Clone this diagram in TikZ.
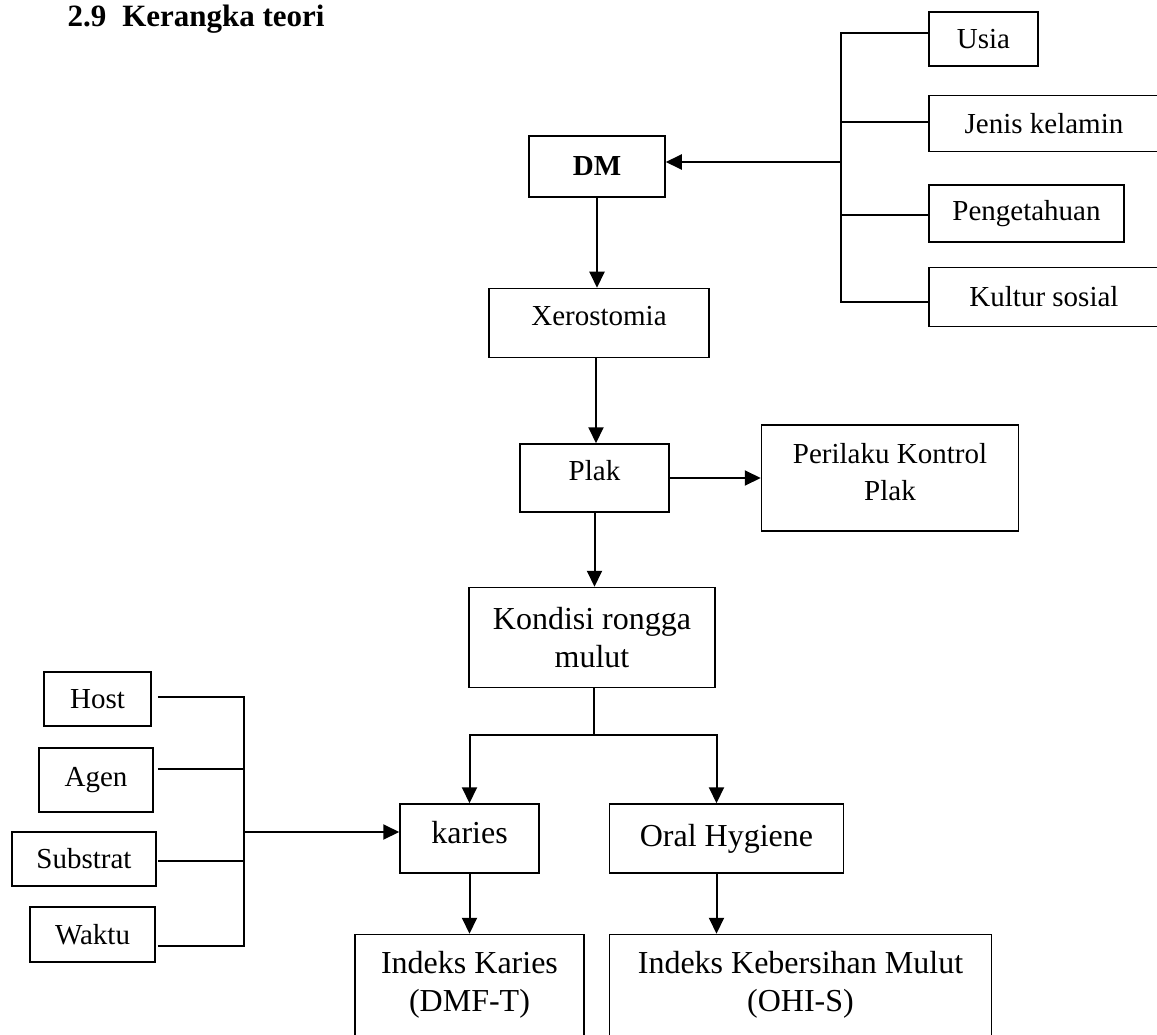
\documentclass[tikz,border=0pt]{standalone}
\usepackage{fontspec}
\setmainfont{Liberation Serif}
\usetikzlibrary{
  positioning,
  arrows.meta
}

\begin{document}
\begin{tikzpicture}[x = 1pt, y = 1pt,
    box/.style = {draw, line width = 1.5pt, inner sep = 0pt, align = center},
    fsmall/.style = {font = \fontsize{29}{37}\selectfont},
    fbig/.style = {font = \fontsize{32}{38}\selectfont},
    ln/.style = {line width = 2pt},
    arr/.style = {line width = 2pt, -{Triangle[length = 16pt, width = 15pt]}}]
    \useasboundingbox (0,0) rectangle (1157,-1035);
    \clip (0,0) rectangle (1157,-1035);

    \node[anchor = base west, font = \bfseries\fontsize{31}{38}\selectfont] (title) at (64,-27) {2.9\hspace{16pt}Kerangka teori};

    \node[box, minimum width = 136pt, minimum height = 61pt, font = \bfseries\fontsize{29}{37}\selectfont] (dm) at (597,-166.5) {DM};
    \node[box, fsmall, minimum width = 220pt, minimum height = 69pt, text depth = 14pt, below = 90pt of dm, xshift = 2pt] (xero) {Xerostomia};
    \node[box, fsmall, minimum width = 149pt, minimum height = 68pt, text depth = 15pt, below = 85pt of xero, xshift = -4.5pt] (plak) {Plak};
    \node[box, fsmall, minimum width = 257pt, minimum height = 106pt, text depth = 13pt, right = 91pt of plak] (kontrol) {Perilaku Kontrol\\Plak};
    \node[box, fbig, minimum width = 246pt, minimum height = 100pt, below = 74pt of plak, xshift = -2.5pt] (kondisi) {Kondisi rongga\\mulut};
    \node[box, fbig, minimum width = 139pt, minimum height = 69pt, text depth = 13pt] (karies) at (469.5,-838.5) {karies};
    \node[box, fbig, minimum width = 234pt, minimum height = 69pt, right = 69pt of karies] (oral) {Oral Hygiene};
    \node[box, fbig, minimum width = 229pt, text height = 60pt, text depth = 90pt, inner ysep = 17pt, below = 60pt of karies] (ik) {Indeks Karies\\(DMF-T)};
    \node[box, fbig, minimum width = 382pt, text height = 60pt, text depth = 90pt, inner ysep = 17pt, below right = 60pt and 0pt of oral.south west] (ikm) {Indeks Kebersihan Mulut\\(OHI-S)};

    \node[box, fsmall, minimum width = 109pt, minimum height = 54pt] (usia) at (983.5,-39) {Usia};
    \node[box, fsmall, minimum width = 230pt, minimum height = 56pt, below right = 28pt and 0pt of usia.south west] (jenis) {Jenis kelamin};
    \node[box, fsmall, minimum width = 195pt, minimum height = 57pt, below right = 32pt and 0pt of jenis.south west] (tahu) {Pengetahuan};
    \node[box, fsmall, minimum width = 230pt, minimum height = 59pt, below right = 24pt and 0pt of tahu.south west] (kultur) {Kultur sosial};

    \node[box, fsmall, minimum width = 107pt, minimum height = 54pt] (host) at (97.5,-699) {Host};
    \node[box, fsmall, minimum width = 114pt, minimum height = 64pt] (agen) at (96,-780) {Agen};
    \node[box, fsmall, minimum width = 144pt, minimum height = 54pt] (substrat) at (84,-859) {Substrat};
    \node[box, fsmall, minimum width = 125pt, minimum height = 55pt] (waktu) at (92.5,-934.5) {Waktu};

    \coordinate (rbus) at (841,-162);
    \coordinate (lbus) at (244,-832);
    \coordinate (fork) at (594,-735);

    \draw[ln] ([yshift = 6pt]usia.west) -| (rbus);
    \draw[ln] ([yshift = 1pt]jenis.west) -| (rbus);
    \draw[ln] ([yshift = -1.5pt]tahu.west) -| (rbus);
    \draw[ln] ([yshift = -4.5pt]kultur.west) -| (rbus);
    \draw[arr] (rbus) -- (rbus -| dm.east);

    \draw[arr] (dm.south) -- (dm.south |- xero.north);
    \draw[arr] ([xshift = -3pt]xero.south) -- ([xshift = -3pt]xero.south |- plak.north);
    \draw[arr] (plak) -- (kontrol);
    \draw[arr] (plak.south) -- (plak.south |- kondisi.north);
    \draw[ln] (kondisi.south -| fork) -- (fork);
    \draw[arr] (fork) -| (karies.north);
    \draw[arr] (fork) -| ([xshift = -10pt]oral.north);
    \draw[arr] (karies.south) -- (karies.south |- ik.north);
    \draw[arr] ([xshift = -10pt]oral.south) -- ([xshift = -10pt]oral.south |- ikm.north);

    \draw[ln] ([xshift = 6pt, yshift = 2pt]host.east) -| (lbus);
    \draw[ln] ([xshift = 4pt, yshift = 11pt]agen.east) -| (lbus);
    \draw[ln] ([xshift = 1pt, yshift = -2pt]substrat.east) -| (lbus);
    \draw[ln] ([xshift = 2pt, yshift = -11.5pt]waktu.east) -| (lbus);
    \draw[arr] (lbus) -- (lbus -| karies.west);
\end{tikzpicture}
\end{document}
